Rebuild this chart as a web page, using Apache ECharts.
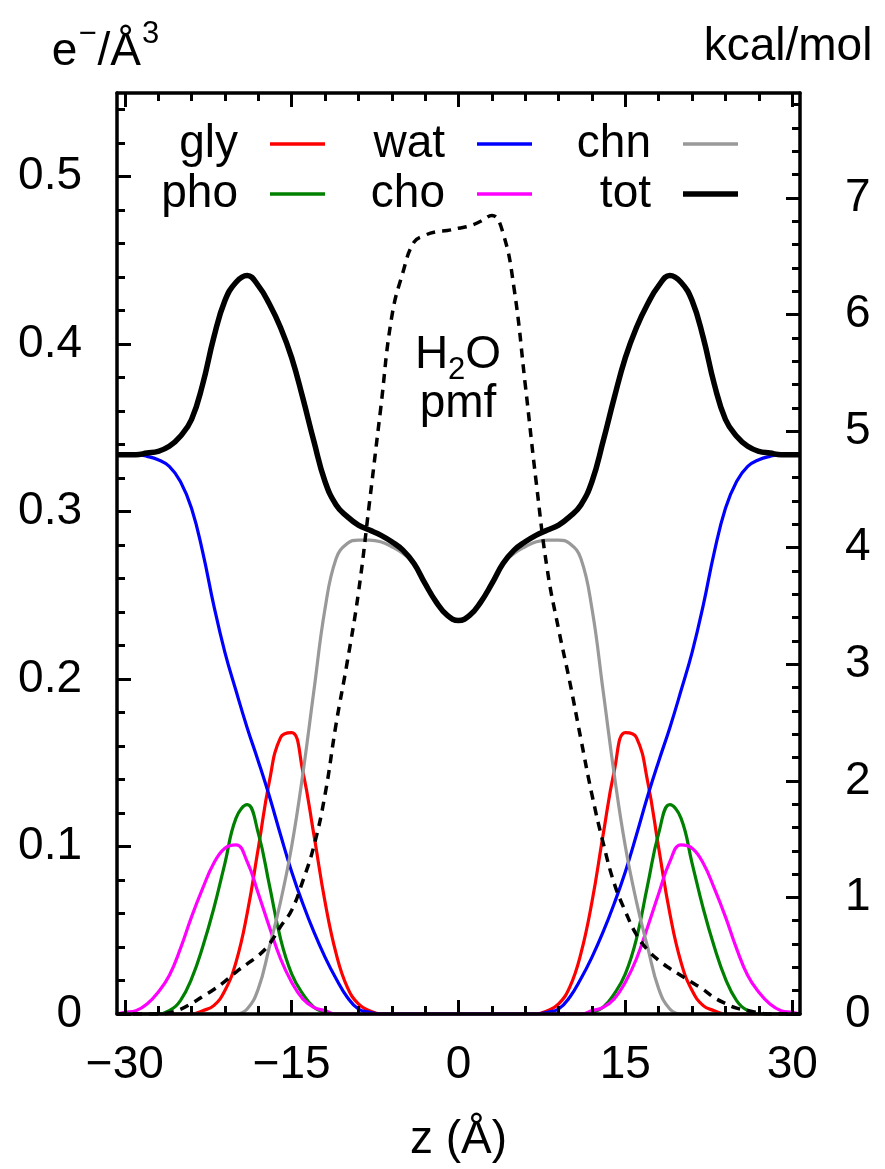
<!DOCTYPE html>
<html>
<head>
<meta charset="utf-8">
<script src="https://cdn.jsdelivr.net/npm/echarts@6/dist/echarts.min.js"></script>
<style>
  html, body { margin: 0; padding: 0; background: #ffffff; }
  #chart { width: 885px; height: 1169px; }
</style>
</head>
<body>
<div id="chart"></div>
<script>
// Position along the membrane normal, z (Å)
const zGrid = [-30.7, -30, -29, -28, -27, -26, -25, -24, -23, -22, -21, -20, -19, -18, -17, -16,
  -15, -14, -13, -12, -11, -10, -9, -8, -7, -6, -5, -4, -3, -2, -1, 0,
  1, 2, 3, 4, 5, 6, 7, 8, 9, 10, 11, 12, 13, 14, 15,
  16, 17, 18, 19, 20, 21, 22, 23, 24, 25, 26, 27, 28, 29, 30, 30.7];

// Electron density profiles (e-/Å^3)
const gly = [0, 0, 0, 0, 0, 0, 0, 0,
  0.002, 0.005, 0.014, 0.031, 0.060, 0.099, 0.139, 0.165, 0.168, 0.145, 0.107, 0.067, 0.036, 0.016, 0.006, 0.002,
  0, 0, 0, 0, 0, 0, 0, 0,
  0, 0, 0, 0, 0, 0, 0,
  0.002, 0.006, 0.016, 0.036, 0.067, 0.107, 0.145, 0.168, 0.165, 0.139, 0.099, 0.060, 0.031, 0.014, 0.005, 0.002,
  0, 0, 0, 0, 0, 0, 0, 0];

const pho = [0, 0, 0, 0, 0,
  0.002, 0.008, 0.021, 0.040, 0.063, 0.090, 0.117, 0.125, 0.108, 0.077, 0.045, 0.024, 0.012, 0.004, 0.001,
  0, 0, 0, 0, 0, 0, 0, 0, 0, 0, 0, 0,
  0, 0, 0, 0, 0, 0, 0, 0, 0, 0, 0,
  0.001, 0.004, 0.012, 0.024, 0.045, 0.077, 0.108, 0.125, 0.117, 0.090, 0.063, 0.040, 0.021, 0.008, 0.002,
  0, 0, 0, 0, 0];

const wat = [0.334, 0.334, 0.334, 0.333, 0.331, 0.327, 0.318, 0.302, 0.276, 0.244, 0.216, 0.193,
  0.171, 0.151, 0.130, 0.107, 0.085, 0.066, 0.049, 0.034, 0.021, 0.010, 0.003, 0.001,
  0, 0, 0, 0, 0, 0, 0, 0,
  0, 0, 0, 0, 0, 0, 0,
  0.001, 0.003, 0.010, 0.021, 0.034, 0.049, 0.066, 0.085, 0.107, 0.130, 0.151, 0.171,
  0.193, 0.216, 0.244, 0.276, 0.302, 0.318, 0.327, 0.331, 0.333, 0.334, 0.334, 0.334];

const cho = [0, 0.001, 0.002, 0.006, 0.013, 0.023, 0.039, 0.058, 0.075, 0.090, 0.099, 0.101,
  0.091, 0.072, 0.052, 0.033, 0.019, 0.009, 0.004, 0.002,
  0, 0, 0, 0, 0, 0, 0, 0, 0, 0, 0, 0,
  0, 0, 0, 0, 0, 0, 0, 0, 0, 0, 0,
  0.002, 0.004, 0.009, 0.019, 0.033, 0.052, 0.072, 0.091, 0.101, 0.099, 0.090, 0.075,
  0.058, 0.039, 0.023, 0.013, 0.006, 0.002, 0.001, 0];

const chn = [0, 0, 0, 0, 0, 0, 0, 0, 0, 0, 0, 0,
  0.003, 0.015, 0.040, 0.067, 0.100, 0.143, 0.193, 0.242, 0.272, 0.281, 0.283, 0.283,
  0.282, 0.279, 0.275, 0.269, 0.257, 0.246, 0.238, 0.235,
  0.238, 0.246, 0.257, 0.269, 0.275, 0.279, 0.282, 0.283, 0.283, 0.281,
  0.272, 0.242, 0.193, 0.143, 0.100, 0.067, 0.040, 0.015, 0.003,
  0, 0, 0, 0, 0, 0, 0, 0, 0, 0, 0, 0];

const tot = [0.334, 0.334, 0.334, 0.335, 0.336, 0.339, 0.345, 0.355, 0.376, 0.404, 0.426, 0.437,
  0.441, 0.435, 0.424, 0.410, 0.392, 0.368, 0.342, 0.318, 0.304, 0.297, 0.292, 0.289,
  0.286, 0.282, 0.277, 0.269, 0.257, 0.246, 0.238, 0.235,
  0.238, 0.246, 0.257, 0.269, 0.277, 0.282, 0.286, 0.289, 0.292, 0.297,
  0.304, 0.318, 0.342, 0.368, 0.392, 0.410, 0.424, 0.435, 0.441,
  0.437, 0.426, 0.404, 0.376, 0.355, 0.345, 0.339, 0.336, 0.335, 0.334, 0.334, 0.334];

// Water potential of mean force (kcal/mol)
const pmf = [0, 0, 0, 0, 0, 0.01, 0.04, 0.09, 0.15, 0.21, 0.28, 0.36,
  0.43, 0.50, 0.60, 0.75, 0.89, 1.14, 1.44, 1.88, 2.49, 3.02, 3.61, 4.39,
  5.19, 5.98, 6.36, 6.62, 6.68, 6.71, 6.72, 6.74,
  6.76, 6.80, 6.85, 6.70, 6.22, 5.40, 4.55, 3.80, 3.30, 2.85,
  2.36, 1.88, 1.47, 1.12, 0.88, 0.68, 0.55, 0.46, 0.39,
  0.33, 0.27, 0.21, 0.14, 0.09, 0.05, 0.03, 0.01, 0, 0, 0, 0];

// Tick positions
const xMajor = [-30, -15, 0, 15, 30];
const leftMajor = [0, 0.1, 0.2, 0.3, 0.4, 0.5];
const rightMajor = [0, 1, 2, 3, 4, 5, 6, 7];
const xMinor = [];
for (let v = -30; v <= 30; v += 3) xMinor.push(v);
const leftMinor = [];
for (let i = 0; i <= 27; i++) leftMinor.push(+(i * 0.02).toFixed(2));
const rightMinor = [];
for (let i = 0; i <= 39; i++) rightMinor.push(+(i * 0.2).toFixed(1));

const FONT = "'Liberation Sans', Arial, Helvetica, sans-serif";
const FS = 46;
const X_RANGE = [-30.7, 30.7];
const LEFT_RANGE = [0, 0.55];
const RIGHT_RANGE = [0, 7.9];

const chart = echarts.init(document.getElementById('chart'), null, { renderer: 'canvas' });

const minus = v => (v < 0 ? '\u2212' + Math.abs(v) : String(v));

function xAxisDef(position, ticks, len, showLine, labels) {
  return {
    type: 'value', position, min: X_RANGE[0], max: X_RANGE[1], z: 10,
    axisLine: { show: showLine, onZero: false, lineStyle: { color: '#000', width: 3.5 } },
    axisTick: { show: true, inside: true, length: len, customValues: ticks, lineStyle: { color: '#000', width: 3 } },
    axisLabel: labels ? {
      show: true, customValues: xMajor, formatter: minus, margin: 28,
      fontSize: FS, fontFamily: FONT, color: '#000'
    } : { show: false },
    splitLine: { show: false }
  };
}

function yAxisDef(position, range, ticks, len, showLine, labels, fmt) {
  return {
    type: 'value', position, min: range[0], max: range[1], z: 10,
    axisLine: { show: showLine, onZero: false, lineStyle: { color: '#000', width: 3.5 } },
    axisTick: { show: true, inside: true, length: len, customValues: ticks, lineStyle: { color: '#000', width: 3 } },
    axisLabel: labels ? {
      show: true, customValues: labels, formatter: fmt,
      margin: position === 'left' ? 35 : 45,
      fontSize: FS, fontFamily: FONT, color: '#000'
    } : { show: false },
    splitLine: { show: false }
  };
}

const xAxes = [
  xAxisDef('bottom', xMajor, 14, true, true),
  xAxisDef('bottom', xMinor, 8, false, false),
  xAxisDef('top', xMajor, 14, true, false),
  xAxisDef('top', xMinor, 8, false, false)
];
Object.assign(xAxes[0], {
  name: 'z (\u00C5)', nameLocation: 'middle', nameGap: 103,
  nameTextStyle: { fontSize: FS, fontFamily: FONT, color: '#000' }
});

const yAxes = [
  yAxisDef('left', LEFT_RANGE, leftMajor, 14, true, leftMajor, v => (v === 0 ? '0' : v.toFixed(1))),
  yAxisDef('left', LEFT_RANGE, leftMinor, 8, false, null),
  yAxisDef('right', RIGHT_RANGE, rightMajor, 14, true, rightMajor, v => String(v)),
  yAxisDef('right', RIGHT_RANGE, rightMinor, 8, false, null)
];
Object.assign(yAxes[0], {
  name: '{b|e}{sup|\u2212}{b|/\u00C5}{sup|3}', nameLocation: 'end', nameGap: 18,
  nameTextStyle: {
    fontSize: FS, fontFamily: FONT, color: '#000',
    align: 'center', verticalAlign: 'bottom', padding: [0, 22, 0, 0],
    rich: {
      b: { fontSize: FS, fontFamily: FONT, color: '#000', lineHeight: 46, verticalAlign: 'bottom' },
      sup: { fontSize: 31, fontFamily: FONT, color: '#000', lineHeight: 56, verticalAlign: 'top', padding: [0, 1, 0, 1] }
    }
  }
});
Object.assign(yAxes[2], {
  name: 'kcal/mol', nameLocation: 'end', nameGap: 23,
  nameTextStyle: {
    fontSize: FS, fontFamily: FONT, color: '#000', lineHeight: 46,
    align: 'center', verticalAlign: 'bottom', padding: [0, 24, 0, 0]
  }
});

function curve(name, values, color, width, yIndex, dashed) {
  return {
    type: 'line', name,
    data: zGrid.map((z, i) => [z, values[i]]),
    xAxisIndex: 0, yAxisIndex: yIndex,
    showSymbol: false, symbol: 'none', smooth: 0.45,
    lineStyle: { color, width, type: dashed ? [9, 7] : 'solid', cap: 'butt' },
    itemStyle: { color },
    animation: false, silent: true
  };
}

const series = [
  curve('gly', gly, '#ff0000', 3.2, 0),
  curve('pho', pho, '#008000', 3.2, 0),
  curve('wat', wat, '#0000ff', 3.2, 0),
  curve('cho', cho, '#ff00ff', 3.2, 0),
  curve('chn', chn, '#999999', 3.2, 0),
  curve('tot', tot, '#000000', 5.5, 0),
  curve('pmf', pmf, '#000000', 3.5, 2, true)
];

function legendItem(name, right, top, thick) {
  return {
    data: [name], right, top, orient: 'horizontal', align: 'right',
    icon: 'rect', itemWidth: 55, itemHeight: thick, padding: 0, selectedMode: false,
    textStyle: { fontSize: FS, fontFamily: FONT, color: '#000', lineHeight: 46, padding: [0, 27, 0, 0] }
  };
}

const option = {
  backgroundColor: '#ffffff',
  animation: false,
  grid: { left: 117, right: 85, top: 93, bottom: 155, containLabel: false, outerBoundsMode: 'none' },
  xAxis: xAxes,
  yAxis: yAxes,
  legend: [
    legendItem('gly', 560, 121, 3.5),
    legendItem('pho', 560, 171, 3.5),
    legendItem('wat', 353, 121, 3.5),
    legendItem('cho', 353, 171, 3.5),
    legendItem('chn', 147, 121, 3.5),
    legendItem('tot', 147, 171, 5.5)
  ],
  graphic: [
    {
      type: 'text', z: 20, x: 458, y: 359,
      style: {
        text: '{n|H}{s|2}{n|O}', align: 'center', verticalAlign: 'middle',
        rich: {
          n: { fontSize: FS, fontFamily: FONT, fill: '#000', lineHeight: 46, verticalAlign: 'top' },
          s: { fontSize: 31, fontFamily: FONT, fill: '#000', lineHeight: 54, verticalAlign: 'bottom' }
        }
      }
    },
    {
      type: 'text', z: 20, x: 458, y: 404,
      style: { text: 'pmf', fontSize: FS, fontFamily: FONT, fill: '#000', align: 'center', verticalAlign: 'middle' }
    }
  ],
  series
};

chart.setOption(option);
</script>
</body>
</html>
